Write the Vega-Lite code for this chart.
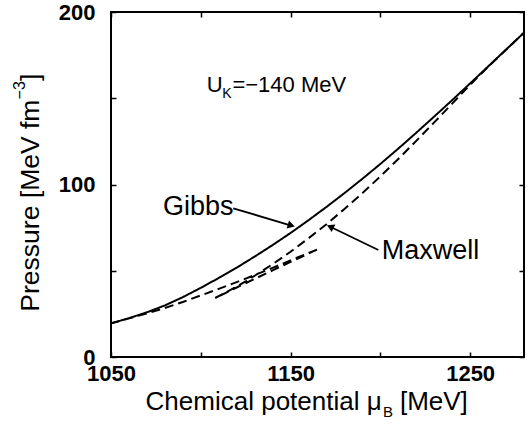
{
  "$schema": "https://vega.github.io/schema/vega-lite/v6.json",
  "width": 413,
  "height": 345,
  "autosize": {"type": "none"},
  "padding": {"left": 111, "top": 12, "right": 7, "bottom": 69},
  "background": "white",
  "config": {
    "view": {"stroke": "black", "strokeWidth": 2},
    "font": "Liberation Sans",
    "text": {"font": "Liberation Sans", "color": "black"}
  },
  "datasets": {
    "curves": [
      {"series": "Gibbs", "i": 0, "mu": 1050, "p": 19.5},
      {"series": "Gibbs", "i": 1, "mu": 1060, "p": 22.5},
      {"series": "Gibbs", "i": 2, "mu": 1070, "p": 25.9},
      {"series": "Gibbs", "i": 3, "mu": 1080, "p": 29.9},
      {"series": "Gibbs", "i": 4, "mu": 1090, "p": 34.7},
      {"series": "Gibbs", "i": 5, "mu": 1100, "p": 40.1},
      {"series": "Gibbs", "i": 6, "mu": 1110, "p": 45.8},
      {"series": "Gibbs", "i": 7, "mu": 1120, "p": 51.8},
      {"series": "Gibbs", "i": 8, "mu": 1130, "p": 58.2},
      {"series": "Gibbs", "i": 9, "mu": 1140, "p": 64.9},
      {"series": "Gibbs", "i": 10, "mu": 1150, "p": 71.9},
      {"series": "Gibbs", "i": 11, "mu": 1160, "p": 79.3},
      {"series": "Gibbs", "i": 12, "mu": 1170, "p": 87.0},
      {"series": "Gibbs", "i": 13, "mu": 1180, "p": 95.0},
      {"series": "Gibbs", "i": 14, "mu": 1190, "p": 103.3},
      {"series": "Gibbs", "i": 15, "mu": 1200, "p": 111.9},
      {"series": "Gibbs", "i": 16, "mu": 1210, "p": 120.8},
      {"series": "Gibbs", "i": 17, "mu": 1220, "p": 130.0},
      {"series": "Gibbs", "i": 18, "mu": 1230, "p": 139.4},
      {"series": "Gibbs", "i": 19, "mu": 1240, "p": 148.9},
      {"series": "Gibbs", "i": 20, "mu": 1250, "p": 158.6},
      {"series": "Gibbs", "i": 21, "mu": 1260, "p": 168.4},
      {"series": "Gibbs", "i": 22, "mu": 1270, "p": 178.2},
      {"series": "Gibbs", "i": 23, "mu": 1280, "p": 188.0},
      {"series": "Maxwell", "i": 0, "mu": 1050, "p": 19.5},
      {"series": "Maxwell", "i": 1, "mu": 1060, "p": 22.4},
      {"series": "Maxwell", "i": 2, "mu": 1070, "p": 25.3},
      {"series": "Maxwell", "i": 3, "mu": 1080, "p": 28.4},
      {"series": "Maxwell", "i": 4, "mu": 1090, "p": 31.9},
      {"series": "Maxwell", "i": 5, "mu": 1100, "p": 35.7},
      {"series": "Maxwell", "i": 6, "mu": 1110, "p": 39.5},
      {"series": "Maxwell", "i": 7, "mu": 1120, "p": 43.4},
      {"series": "Maxwell", "i": 8, "mu": 1130, "p": 47.5},
      {"series": "Maxwell", "i": 9, "mu": 1140, "p": 51.7},
      {"series": "Maxwell", "i": 10, "mu": 1150, "p": 56.0},
      {"series": "Maxwell", "i": 11, "mu": 1160, "p": 60.3},
      {"series": "Maxwell", "i": 12, "mu": 1166, "p": 62.8},
      {"series": "Maxwell", "i": 13, "mu": 1160, "p": 60.0},
      {"series": "Maxwell", "i": 14, "mu": 1150, "p": 55.1},
      {"series": "Maxwell", "i": 15, "mu": 1140, "p": 50.2},
      {"series": "Maxwell", "i": 16, "mu": 1130, "p": 45.3},
      {"series": "Maxwell", "i": 17, "mu": 1120, "p": 40.3},
      {"series": "Maxwell", "i": 18, "mu": 1108, "p": 34.2},
      {"series": "Maxwell", "i": 19, "mu": 1115, "p": 38.0},
      {"series": "Maxwell", "i": 20, "mu": 1120, "p": 40.9},
      {"series": "Maxwell", "i": 21, "mu": 1125, "p": 43.9},
      {"series": "Maxwell", "i": 22, "mu": 1130, "p": 47.1},
      {"series": "Maxwell", "i": 23, "mu": 1140, "p": 53.8},
      {"series": "Maxwell", "i": 24, "mu": 1150, "p": 61.0},
      {"series": "Maxwell", "i": 25, "mu": 1160, "p": 68.8},
      {"series": "Maxwell", "i": 26, "mu": 1170, "p": 77.0},
      {"series": "Maxwell", "i": 27, "mu": 1180, "p": 85.8},
      {"series": "Maxwell", "i": 28, "mu": 1190, "p": 95.0},
      {"series": "Maxwell", "i": 29, "mu": 1200, "p": 104.7},
      {"series": "Maxwell", "i": 30, "mu": 1210, "p": 114.8},
      {"series": "Maxwell", "i": 31, "mu": 1220, "p": 125.3},
      {"series": "Maxwell", "i": 32, "mu": 1230, "p": 136.0},
      {"series": "Maxwell", "i": 33, "mu": 1240, "p": 146.9},
      {"series": "Maxwell", "i": 34, "mu": 1250, "p": 157.8},
      {"series": "Maxwell", "i": 35, "mu": 1260, "p": 168.2},
      {"series": "Maxwell", "i": 36, "mu": 1270, "p": 178.1},
      {"series": "Maxwell", "i": 37, "mu": 1280, "p": 188.0}
    ],
    "arrows": [
      {"name": "Gibbs", "x0": 1118.1, "y0": 86.2, "x1": 1150.4, "y1": 76.2},
      {"name": "Maxwell", "x0": 1198.9, "y0": 62.0, "x1": 1172.1, "y1": 75.5}
    ],
    "bigLabels": [
      {"t": "Gibbs", "x": 1079, "y": 82.3},
      {"t": "Maxwell", "x": 1200.75, "y": 56.6}
    ],
    "ukLabels": [
      {"t": "U", "x": 1103.3, "y": 153.4},
      {"t": "=−140 MeV", "x": 1117.6, "y": 153.4}
    ],
    "ukSub": [
      {"t": "K", "x": 1112.0, "y": 150.3}
    ],
    "xTitleMain": [
      {"t": "Chemical potential μ", "x": 1200.75, "y": -30.7}
    ],
    "xTitleSub": [
      {"t": "B", "x": 1201.5, "y": -34.8}
    ],
    "xTitleUnit": [
      {"t": "[MeV]", "x": 1210.9, "y": -30.7}
    ],
    "yTitleMain": [
      {"t": "Pressure [MeV fm", "x": 1010.1, "y": 26.3},
      {"t": "]", "x": 1010.1, "y": 160.0}
    ],
    "yTitleSup": [
      {"t": "−3", "x": 1002.1, "y": 149.3}
    ]
  },
  "layer": [
    {
      "data": {"name": "curves"},
      "mark": {"type": "line", "color": "black", "strokeWidth": 2},
      "encoding": {
        "x": {
          "field": "mu", "type": "quantitative",
          "scale": {"domain": [1050, 1280], "nice": false, "zero": false},
          "axis": {
            "orient": "bottom", "values": [1050, 1100, 1150, 1200, 1250],
            "labelExpr": "datum.value % 100 == 50 ? datum.label : ''",
            "format": "d", "labelFlush": false, "labelOverlap": false,
            "labelFont": "Liberation Sans", "labelFontSize": 22, "labelFontWeight": "bold",
            "labelColor": "black", "labelPadding": 11,
            "tickSize": -5, "tickColor": "black", "tickWidth": 1.5,
            "domain": false, "grid": false, "title": null
          }
        },
        "y": {
          "field": "p", "type": "quantitative",
          "scale": {"domain": [0, 200], "nice": false, "zero": false},
          "axis": {
            "orient": "left", "values": [0, 50, 100, 150, 200],
            "labelExpr": "datum.value % 100 == 0 ? datum.label : ''",
            "format": "d", "labelFlush": false, "labelOverlap": false,
            "labelFont": "Liberation Sans", "labelFontSize": 22, "labelFontWeight": "bold",
            "labelColor": "black", "labelPadding": 21,
            "tickSize": -5, "tickColor": "black", "tickWidth": 1.5,
            "domain": false, "grid": false, "title": null
          }
        },
        "strokeDash": {
          "field": "series", "type": "nominal",
          "scale": {"domain": ["Gibbs", "Maxwell"], "range": [[1, 0], [9, 5]]},
          "legend": null
        },
        "order": {"field": "i", "type": "quantitative"}
      }
    },
    {
      "data": {"name": "arrows"},
      "mark": {"type": "rule", "color": "black", "strokeWidth": 1.8},
      "encoding": {
        "x": {
          "field": "x0", "type": "quantitative",
          "scale": {"domain": [1050, 1280], "nice": false, "zero": false},
          "axis": {
            "orient": "top", "values": [1050, 1100, 1150, 1200, 1250],
            "labels": false, "tickSize": -5, "tickColor": "black", "tickWidth": 1.5,
            "domain": false, "grid": false, "title": null
          }
        },
        "y": {
          "field": "y0", "type": "quantitative",
          "scale": {"domain": [0, 200], "nice": false, "zero": false},
          "axis": {
            "orient": "right", "values": [0, 50, 100, 150, 200],
            "labels": false, "tickSize": -5, "tickColor": "black", "tickWidth": 1.5,
            "domain": false, "grid": false, "title": null
          }
        },
        "x2": {"field": "x1"},
        "y2": {"field": "y1"}
      }
    },
    {
      "data": {"name": "arrows"},
      "transform": [{"filter": "datum.name == 'Gibbs'"}],
      "mark": {"type": "point", "shape": "triangle-right", "filled": true, "color": "black", "opacity": 1, "size": 70, "angle": 17},
      "encoding": {
        "x": {"field": "x1", "type": "quantitative", "axis": null},
        "y": {"field": "y1", "type": "quantitative", "axis": null}
      }
    },
    {
      "data": {"name": "arrows"},
      "transform": [{"filter": "datum.name == 'Maxwell'"}],
      "mark": {"type": "point", "shape": "triangle-right", "filled": true, "color": "black", "opacity": 1, "size": 70, "angle": 206},
      "encoding": {
        "x": {"field": "x1", "type": "quantitative", "axis": null},
        "y": {"field": "y1", "type": "quantitative", "axis": null}
      }
    },
    {
      "data": {"name": "bigLabels"},
      "mark": {"type": "text", "align": "left", "baseline": "alphabetic", "fontSize": 27, "color": "black"},
      "encoding": {
        "x": {"field": "x", "type": "quantitative", "axis": null},
        "y": {"field": "y", "type": "quantitative", "axis": null},
        "text": {"field": "t"}
      }
    },
    {
      "data": {"name": "ukLabels"},
      "mark": {"type": "text", "align": "left", "baseline": "alphabetic", "fontSize": 22, "color": "black"},
      "encoding": {
        "x": {"field": "x", "type": "quantitative", "axis": null},
        "y": {"field": "y", "type": "quantitative", "axis": null},
        "text": {"field": "t"}
      }
    },
    {
      "data": {"name": "ukSub"},
      "mark": {"type": "text", "align": "left", "baseline": "alphabetic", "fontSize": 14, "color": "black"},
      "encoding": {
        "x": {"field": "x", "type": "quantitative", "axis": null},
        "y": {"field": "y", "type": "quantitative", "axis": null},
        "text": {"field": "t"}
      }
    },
    {
      "data": {"name": "xTitleMain"},
      "mark": {"type": "text", "align": "right", "baseline": "alphabetic", "fontSize": 26, "color": "black"},
      "encoding": {
        "x": {"field": "x", "type": "quantitative", "axis": null},
        "y": {"field": "y", "type": "quantitative", "axis": null},
        "text": {"field": "t"}
      }
    },
    {
      "data": {"name": "xTitleSub"},
      "mark": {"type": "text", "align": "left", "baseline": "alphabetic", "fontSize": 15, "color": "black"},
      "encoding": {
        "x": {"field": "x", "type": "quantitative", "axis": null},
        "y": {"field": "y", "type": "quantitative", "axis": null},
        "text": {"field": "t"}
      }
    },
    {
      "data": {"name": "xTitleUnit"},
      "mark": {"type": "text", "align": "left", "baseline": "alphabetic", "fontSize": 26, "color": "black"},
      "encoding": {
        "x": {"field": "x", "type": "quantitative", "axis": null},
        "y": {"field": "y", "type": "quantitative", "axis": null},
        "text": {"field": "t"}
      }
    },
    {
      "data": {"name": "yTitleMain"},
      "mark": {"type": "text", "align": "left", "baseline": "alphabetic", "angle": 270, "fontSize": 26.5, "color": "black"},
      "encoding": {
        "x": {"field": "x", "type": "quantitative", "axis": null},
        "y": {"field": "y", "type": "quantitative", "axis": null},
        "text": {"field": "t"}
      }
    },
    {
      "data": {"name": "yTitleSup"},
      "mark": {"type": "text", "align": "left", "baseline": "alphabetic", "angle": 270, "fontSize": 16, "color": "black"},
      "encoding": {
        "x": {"field": "x", "type": "quantitative", "axis": null},
        "y": {"field": "y", "type": "quantitative", "axis": null},
        "text": {"field": "t"}
      }
    }
  ],
  "resolve": {"axis": {"x": "independent", "y": "independent"}}
}
